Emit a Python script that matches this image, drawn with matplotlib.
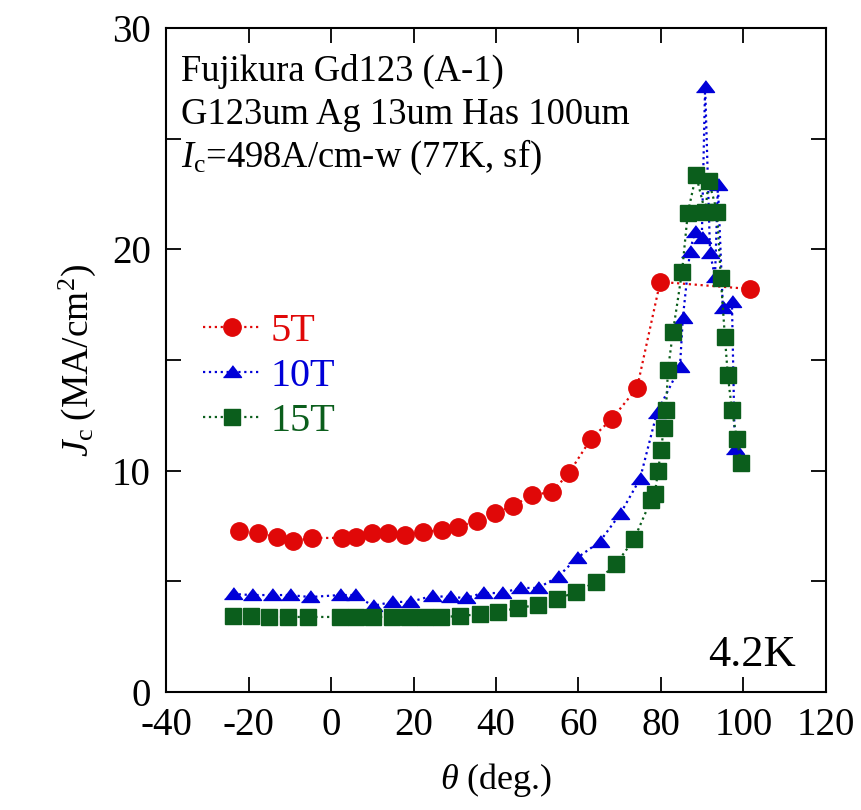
import matplotlib
matplotlib.use("Agg")
import matplotlib.pyplot as plt
from matplotlib.ticker import MultipleLocator

plt.rcParams['font.family'] = ['Liberation Serif', 'DejaVu Serif']
plt.rcParams['mathtext.fontset'] = 'custom'
plt.rcParams['mathtext.rm'] = 'Liberation Serif'
plt.rcParams['mathtext.it'] = 'Liberation Serif:italic'

# ---- data ----
theta_5T = [-22.3, -17.7, -13.1, -9.2, -4.6, 2.7, 6.1, 9.9, 13.8, 17.9, 22.3, 26.9,
            30.8, 35.4, 39.8, 44.1, 48.7, 53.6, 57.7, 63.0, 68.1, 74.2, 79.8, 101.6]
jc_5T = [7.28, 7.18, 7.00, 6.82, 6.96, 6.96, 7.00, 7.18, 7.18, 7.09, 7.23, 7.32,
         7.46, 7.73, 8.09, 8.40, 8.90, 9.04, 9.90, 11.43, 12.34, 13.74, 18.53, 18.21]

theta_10T = [-23.8, -19.2, -14.3, -9.9, -5.1, 2.2, 5.8, 10.2, 14.8, 19.2, 24.5, 28.8,
             32.7, 36.8, 41.5, 45.8, 50.2, 55.0, 59.6, 65.1, 70.1, 74.9, 79.0, 84.6,
             85.3, 87.0, 88.2, 89.9, 90.7, 91.9, 93.1, 93.8, 95.0, 97.2, 97.9]
jc_10T = [4.43, 4.38, 4.38, 4.38, 4.29, 4.38, 4.38, 3.89, 4.07, 4.07, 4.34, 4.29,
          4.25, 4.47, 4.47, 4.70, 4.70, 5.20, 6.05, 6.78, 8.04, 9.62, 12.61, 14.69,
          16.90, 19.88, 20.79, 20.52, 27.34, 19.84, 18.75, 22.91, 17.35, 17.62, 10.98]

theta_15T = [-23.8, -19.4, -15.0, -10.4, -5.6, 2.2, 6.1, 10.2, 14.8, 18.9, 22.8, 26.7,
             31.3, 36.1, 40.5, 45.3, 50.2, 54.8, 59.4, 64.2, 69.1, 73.5, 77.6, 78.5,
             79.3, 80.0, 80.7, 81.2, 81.7, 82.9, 85.1, 86.5, 88.5, 90.7, 91.6, 93.6,
             94.5, 95.5, 96.2, 97.2, 98.4, 99.4]
jc_15T = [3.43, 3.43, 3.39, 3.39, 3.39, 3.39, 3.39, 3.39, 3.39, 3.39, 3.39, 3.39,
          3.43, 3.52, 3.61, 3.80, 3.93, 4.20, 4.52, 4.97, 5.78, 6.91, 8.68, 8.95,
          9.99, 10.94, 11.93, 12.74, 14.55, 16.27, 18.98, 21.64, 23.36, 21.69, 23.09, 21.69,
          18.71, 16.04, 14.32, 12.74, 11.43, 10.35]

labels = ['5T', '10T', '15T']
colors = ['#e00808', '#0000d8', '#0b5e1c']
x_ticks = [-40, -20, 0, 20, 40, 60, 80, 100, 120]

fig = plt.figure(figsize=(8.62, 8.10), dpi=100)
ax = fig.add_axes([0.1926, 0.1457, 0.7656, 0.8197])

tri = [(-1.0, -0.55), (1.0, -0.55), (0.0, 0.75)]
ax.plot(theta_5T, jc_5T, linestyle=':', color=colors[0], lw=1.6, marker='o',
        markersize=12.5, label=labels[0])
ax.plot(theta_10T, jc_10T, linestyle=':', color=colors[1], lw=1.6, marker=tri,
        markersize=13, label=labels[1])
ax.plot(theta_15T, jc_15T, linestyle=':', color=colors[2], lw=1.6, marker='s',
        markersize=11.5, label=labels[2])

ax.set_xlim(-40, 120)
ax.set_ylim(0, 30)
ax.set_xticks(x_ticks)
ax.set_xticklabels([str(t) for t in x_ticks])
ax.yaxis.set_major_locator(MultipleLocator(10))
ax.yaxis.set_minor_locator(MultipleLocator(5))
ax.tick_params(which='both', direction='in', top=True, right=True, length=11,
               width=1.3, labelsize=28)
ax.tick_params(axis='x', which='major', pad=11)
ax.tick_params(axis='y', which='major', pad=11)
ax.tick_params(axis='x', which='minor', bottom=False, top=False)
for s in ax.spines.values():
    s.set_linewidth(1.5)

ax.set_xlabel(r'$\theta$ (deg.)', fontsize=26, labelpad=12)
ax.set_ylabel(r'$J_{\rm c}\;$(MA/cm$^{2}$)', fontsize=27, labelpad=10)

ax.text(0.023, 0.935, 'Fujikura Gd123 (A-1)', transform=ax.transAxes, fontsize=26.3,
        va='center', ha='left')
ax.text(0.023, 0.870, 'G123um Ag 13um Has 100um', transform=ax.transAxes, fontsize=26.3,
        va='center', ha='left')
ax.text(0.023, 0.805, r'$I_{\rm c}$=498A/cm-w (77K, sf)', transform=ax.transAxes,
        fontsize=26.3, va='center', ha='left')
ax.text(0.955, 0.056, '4.2K', transform=ax.transAxes, fontsize=32, va='center',
        ha='right')

leg = ax.legend(loc='upper left', bbox_to_anchor=(0.056, 0.571), frameon=False,
                fontsize=29, handlelength=1.42, handletextpad=0.25, labelspacing=0.19,
                borderpad=0, borderaxespad=0)
for t, c in zip(leg.get_texts(), colors):
    t.set_color(c)

fig.savefig('out.png', dpi=100)
